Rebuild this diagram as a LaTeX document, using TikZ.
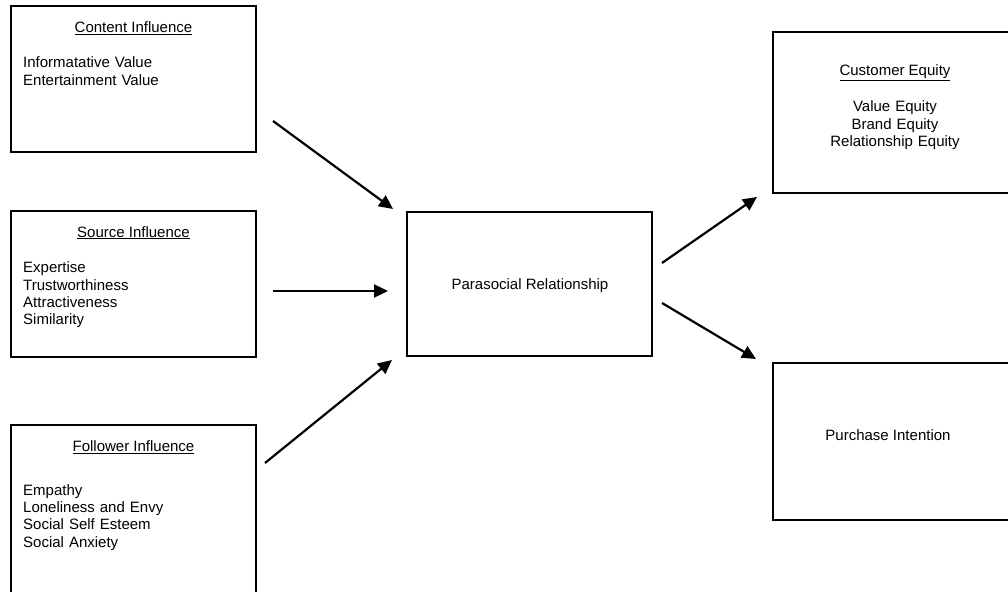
\documentclass[tikz,border=0pt]{standalone}
\usepackage{fontspec}
\setmainfont{Liberation Sans}
\usetikzlibrary{arrows.meta,positioning,calc}
\tikzset{box/.style={draw,line width=2.6pt,minimum width=245,inner sep=0pt},flow/.style={-{Triangle[length=14pt,width=13pt]},line width=2.2pt},head/.style={font=\fontsize{15}{17.4}\selectfont,anchor=base,inner sep=0pt},items/.style={font=\fontsize{15}{17.4}\selectfont,anchor=base west,text width=220pt,align=left,inner sep=0pt}}

\begin{document}
\begin{tikzpicture}[x=1pt,y=-1pt]
\useasboundingbox (0,0) rectangle (1008,591);
\clip (0,0) rectangle (1008,591);
% left column
\node[box,minimum height=146] (content) at (133.5,79) {};
\node[box,minimum height=146] (source) at (133.5,284) {};
\node[box,minimum height=215] (follower) at (133.5,532.5) {};
\node[head] (contenthead) at (133.5,32.5) {\underline{Content Influence}};
\node[items] (contentlist) at (23,68) {Informatative Value\\Entertainment Value};
\node[head] (sourcehead) at (133.5,237) {\underline{Source Influence}};
\node[items] (sourcelist) at (23,272.7) {Expertise\\Trustworthiness\\Attractiveness\\Similarity};
\node[head] (followerhead) at (133.5,451.7) {\underline{Follower Influence}};
\node[items] (followerlist) at (23,495) {Empathy\\Loneliness and Envy\\Social Self Esteem\\Social Anxiety};
% middle
\node[box,minimum height=144] (para) at (529.5,284) {};
\node[head] (paratext) at (530,289.3) {Parasocial Relationship};
% right column
\node[box,minimum height=161] (equity) at (895.5,112.5) {};
\node[box,minimum height=157] (purchase) at (895.5,441.5) {};
\node[head] (equityhead) at (895,76) {\underline{Customer Equity}};
\node[items,anchor=base,align=center,text width=200pt] (equitylist) at (895,111.7) {Value Equity\\Brand Equity\\Relationship Equity};
\node[head] (purchasetext) at (888,440) {Purchase Intention};
% arrows
\coordinate (c1) at (273,121);\coordinate (p1) at (393,209);
\coordinate (c2) at (273,291);\coordinate (p2) at (388,291);
\coordinate (c3) at (265,463);\coordinate (p3) at (392,360);
\coordinate (p4) at (662,263);\coordinate (e4) at (757,197);
\coordinate (p5) at (662,303);\coordinate (e5) at (756,359);
\draw[flow](c1)--(p1);\draw[flow](c2)--(p2);\draw[flow](c3)--(p3);
\draw[flow](p4)--(e4);\draw[flow](p5)--(e5);
\end{tikzpicture}
\end{document}
